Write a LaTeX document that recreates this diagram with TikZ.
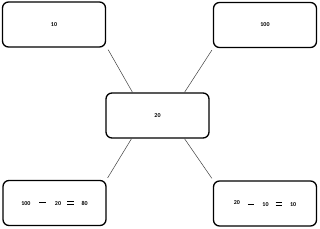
\documentclass[tikz,border=0pt]{standalone}
\usepackage{fontspec}
\setmainfont{Carlito}
\newcommand{\mydash}{\rule[1.8pt]{6.5pt}{0.8pt}}
\newcommand{\myeq}{\makebox[6.5pt]{\rule[0.5pt]{6.5pt}{0.7pt}\kern-6.5pt\rule[3.1pt]{6.5pt}{0.7pt}}}
\begin{document}
\begin{tikzpicture}[x=1pt,y=-1pt,
  box/.style={draw=black,line width=1.3pt,rounded corners=6pt,minimum width=103pt,minimum height=45pt,inner sep=0pt,font=\fontsize{6}{7}\selectfont\bfseries},
  link/.style={draw=black!75,line width=0.5pt}]
\useasboundingbox (0,0) rectangle (320,228);
\node[box] (tl) at (54,24.5) {10};
\node[box] (tr) at (265,25) {100};
\node[box] (c) at (157.5,115.5) {20};
\node[box] (bl) at (54.5,203) {100\hspace{9pt}\mydash\hspace{9pt}20\hspace{6pt}\myeq\hspace{8pt}80};
\node[box] (br) at (265,203.5) {\raisebox{1.5pt}{20}\hspace{8pt}\mydash\hspace{8pt}10\hspace{7pt}\myeq\hspace{8pt}10};
\draw[link] ([xshift=2pt,yshift=-2pt]tl.south east) -- ([xshift=-25pt]c.north);
\draw[link] ([xshift=-1pt,yshift=-2pt]tr.south west) -- ([xshift=27pt]c.north);
\draw[link] ([xshift=-26pt]c.south) -- ([xshift=1pt,yshift=2pt]bl.north east);
\draw[link] ([xshift=27pt]c.south) -- ([xshift=-1pt,yshift=2pt]br.north west);
\end{tikzpicture}
\end{document}
